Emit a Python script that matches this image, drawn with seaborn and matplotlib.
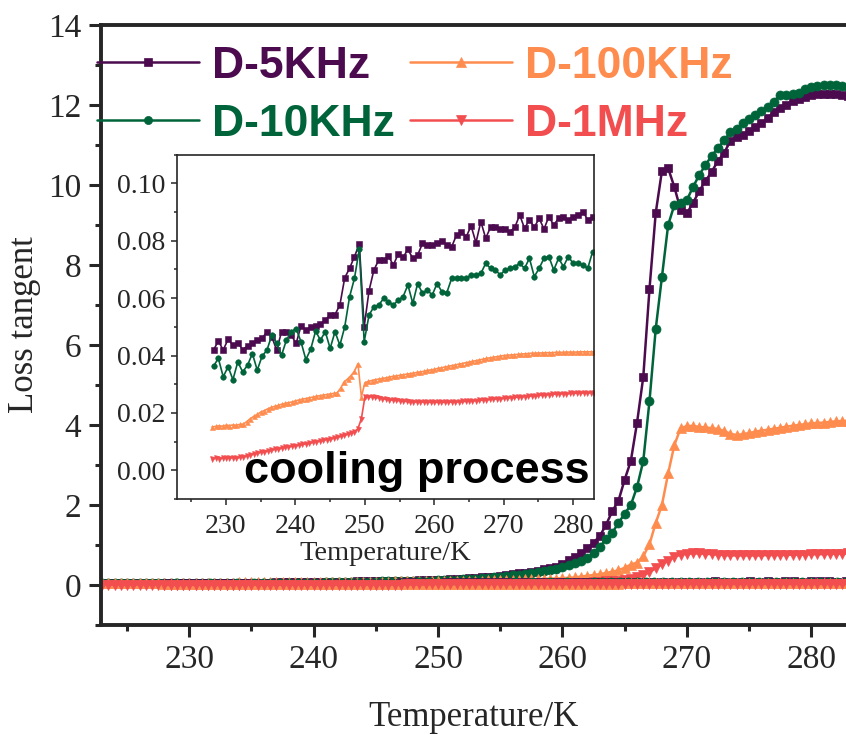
import numpy as np
import matplotlib
matplotlib.use("Agg")
import matplotlib.pyplot as plt
from matplotlib.ticker import MultipleLocator, FormatStrFormatter
import seaborn as sns

# ---------------- data ----------------
labels = ["D-5KHz", "D-10KHz", "D-100KHz", "D-1MHz"]
colors = ["#4B0B4E", "#00643A", "#FF8C4F", "#F24E50"]
markers = ["s", "o", "^", "v"]

# heating run (main panel), temperature grid 223 ... 283 K, 0.5 K step
T_heat = np.round(np.arange(223.0, 283.01, 0.5), 1)

heat_5k = [0.05, 0.05, 0.05, 0.05, 0.05, 0.05, 0.05, 0.05, 0.05, 0.05, 0.05, 0.05, 0.05, 0.05,
           0.05, 0.05, 0.05, 0.05, 0.06, 0.06, 0.06, 0.06, 0.06, 0.06, 0.06, 0.06, 0.06, 0.06, 0.07, 0.07, 0.07, 0.07, 0.07, 0.07,
           0.07, 0.07, 0.08, 0.08, 0.08, 0.08, 0.08, 0.09, 0.09, 0.09, 0.09, 0.10, 0.10, 0.10, 0.11, 0.11, 0.11, 0.12, 0.12, 0.12,
           0.13, 0.13, 0.14, 0.15, 0.16, 0.17, 0.18, 0.19, 0.20, 0.21, 0.23, 0.25, 0.27, 0.29, 0.31, 0.33, 0.36, 0.39, 0.42, 0.46,
           0.52, 0.62, 0.69, 0.79, 0.92, 1.06, 1.22, 1.50, 1.84, 2.10, 2.63, 3.10, 4.06, 5.20, 7.40, 9.30, 10.35, 10.42, 9.95, 9.38,
           9.29, 9.55, 9.85, 10.10, 10.33, 10.60, 10.80, 11.10, 11.20, 11.26, 11.35, 11.44, 11.55, 11.68, 11.82, 11.92, 12.01, 12.10, 12.16, 12.21,
           12.25, 12.27, 12.28, 12.28, 12.27, 12.25, 12.22]
heat_10k = [0.04, 0.04, 0.04, 0.04, 0.04, 0.04, 0.04, 0.04, 0.04, 0.04, 0.04, 0.04, 0.04, 0.04,
            0.04, 0.04, 0.04, 0.04, 0.05, 0.05, 0.05, 0.05, 0.05, 0.05, 0.05, 0.05, 0.05, 0.05, 0.06, 0.06, 0.06, 0.06, 0.06, 0.06,
            0.06, 0.06, 0.07, 0.07, 0.07, 0.07, 0.07, 0.08, 0.08, 0.08, 0.08, 0.09, 0.09, 0.09, 0.10, 0.10, 0.10, 0.11, 0.11, 0.11,
            0.12, 0.12, 0.13, 0.13, 0.14, 0.15, 0.16, 0.17, 0.18, 0.19, 0.21, 0.22, 0.24, 0.26, 0.28, 0.30, 0.32, 0.35, 0.38, 0.41,
            0.46, 0.50, 0.55, 0.61, 0.68, 0.80, 0.95, 1.15, 1.30, 1.55, 1.78, 2.00, 2.45, 3.10, 4.60, 6.40, 7.70, 9.00, 9.50, 9.55,
            9.62, 9.95, 10.25, 10.50, 10.73, 10.92, 11.12, 11.32, 11.41, 11.54, 11.64, 11.74, 11.85, 11.95, 12.08, 12.26, 12.25, 12.27, 12.31, 12.39,
            12.44, 12.48, 12.50, 12.50, 12.49, 12.48, 12.46]
heat_100k = [0.06, 0.06, 0.06, 0.06, 0.06, 0.06, 0.06, 0.06, 0.06, 0.06, 0.06, 0.06, 0.06, 0.06,
             0.06, 0.06, 0.06, 0.06, 0.06, 0.06, 0.06, 0.06, 0.07, 0.07, 0.07, 0.07, 0.07, 0.07, 0.07, 0.07, 0.07, 0.07, 0.07, 0.07,
             0.07, 0.07, 0.07, 0.07, 0.07, 0.08, 0.08, 0.08, 0.08, 0.08, 0.08, 0.08, 0.08, 0.09, 0.09, 0.09, 0.09, 0.09, 0.09, 0.09,
             0.09, 0.09, 0.10, 0.10, 0.10, 0.11, 0.11, 0.11, 0.12, 0.12, 0.12, 0.13, 0.13, 0.13, 0.14, 0.14, 0.15, 0.15, 0.16, 0.16,
             0.17, 0.18, 0.19, 0.21, 0.23, 0.25, 0.27, 0.30, 0.33, 0.37, 0.43, 0.51, 0.56, 0.72, 1.02, 1.55, 2.00, 2.79, 3.50, 3.92,
             3.97, 3.98, 3.95, 3.94, 3.92, 3.90, 3.85, 3.78, 3.75, 3.77, 3.80, 3.83, 3.86, 3.88, 3.91, 3.93, 3.96, 3.98, 4.00, 4.02,
             4.04, 4.05, 4.06, 4.08, 4.09, 4.10, 4.11]
heat_1m = [0.01, 0.01, 0.01, 0.01, 0.01, 0.01, 0.01, 0.01, 0.01, 0.01, 0.01, 0.01, 0.01, 0.01,
           0.01, 0.01, 0.01, 0.01, 0.01, 0.01, 0.01, 0.01, 0.01, 0.01, 0.02, 0.02, 0.02, 0.02, 0.02, 0.02, 0.02, 0.02, 0.02, 0.02,
           0.02, 0.02, 0.02, 0.02, 0.02, 0.02, 0.02, 0.02, 0.02, 0.02, 0.03, 0.03, 0.03, 0.03, 0.03, 0.03, 0.03, 0.03, 0.03, 0.03,
           0.03, 0.03, 0.03, 0.03, 0.03, 0.03, 0.03, 0.03, 0.03, 0.03, 0.04, 0.04, 0.04, 0.04, 0.04, 0.04, 0.04, 0.04, 0.04, 0.04,
           0.04, 0.05, 0.05, 0.06, 0.06, 0.07, 0.08, 0.09, 0.10, 0.11, 0.13, 0.15, 0.19, 0.24, 0.32, 0.42, 0.52, 0.61, 0.70, 0.76,
           0.78, 0.79, 0.79, 0.78, 0.77, 0.76, 0.75, 0.74, 0.74, 0.74, 0.74, 0.74, 0.74, 0.75, 0.75, 0.75, 0.75, 0.76, 0.76, 0.76,
           0.77, 0.77, 0.77, 0.78, 0.78, 0.78, 0.79]

# cooling run (inset), low-frequency curves sampled every 0.7 K from 228.2 K
T_cool_lf = np.round(np.linspace(228.2, 282.8, 79), 2)
cool_5k = [0.0419, 0.0451, 0.0419, 0.0457, 0.0436, 0.0444, 0.0421, 0.0433, 0.0444, 0.0454,
           0.0460, 0.0483, 0.0465, 0.0419, 0.0483, 0.0483, 0.0471, 0.0442, 0.0503, 0.0489,
           0.0500, 0.0503, 0.0510, 0.0524, 0.0541, 0.0543, 0.0576, 0.0671, 0.0704, 0.0745,
           0.0788, 0.0500, 0.0626, 0.0698, 0.0733, 0.0733, 0.0747, 0.0715, 0.0754, 0.0742,
           0.0770, 0.0739, 0.0750, 0.0791, 0.0785, 0.0785, 0.0793, 0.0800, 0.0785, 0.0779,
           0.0820, 0.0832, 0.0814, 0.0852, 0.0793, 0.0867, 0.0809, 0.0847, 0.0849, 0.0840,
           0.0840, 0.0832, 0.0847, 0.0890, 0.0843, 0.0873, 0.0847, 0.0878, 0.0841, 0.0884,
           0.0855, 0.0878, 0.0884, 0.0873, 0.0884, 0.0890, 0.0902, 0.0873, 0.0884]
cool_10k = [0.0363, 0.0390, 0.0326, 0.0361, 0.0316, 0.0378, 0.0343, 0.0366, 0.0407, 0.0349,
            0.0398, 0.0419, 0.0471, 0.0442, 0.0401, 0.0454, 0.0483, 0.0494, 0.0448, 0.0386,
            0.0422, 0.0485, 0.0454, 0.0483, 0.0425, 0.0483, 0.0436, 0.0500, 0.0605, 0.0669,
            0.0771, 0.0448, 0.0541, 0.0570, 0.0576, 0.0599, 0.0588, 0.0576, 0.0593, 0.0605,
            0.0646, 0.0582, 0.0651, 0.0617, 0.0628, 0.0611, 0.0651, 0.0622, 0.0619, 0.0669,
            0.0669, 0.0669, 0.0669, 0.0681, 0.0681, 0.0686, 0.0721, 0.0704, 0.0698, 0.0681,
            0.0698, 0.0704, 0.0710, 0.0721, 0.0704, 0.0739, 0.0675, 0.0704, 0.0739, 0.0745,
            0.0698, 0.0739, 0.0710, 0.0745, 0.0721, 0.0721, 0.0715, 0.0704, 0.0762]

# cooling run, high-frequency curves sampled every 0.5 K from 228 K
T_cool_hf = np.round(np.arange(228.0, 283.01, 0.5), 1)
cool_100k = [0.0151, 0.0153, 0.0155, 0.0154, 0.0157, 0.0156, 0.0158, 0.0157, 0.0160, 0.0161,
             0.0170, 0.0180, 0.0188, 0.0195, 0.0203, 0.0208, 0.0214, 0.0219, 0.0223, 0.0226,
             0.0230, 0.0233, 0.0236, 0.0238, 0.0242, 0.0245, 0.0248, 0.0250, 0.0253, 0.0255,
             0.0258, 0.0260, 0.0262, 0.0264, 0.0266, 0.0268, 0.0270, 0.0286, 0.0308, 0.0318,
             0.0330, 0.0345, 0.0372, 0.0256, 0.0305, 0.0310, 0.0313, 0.0316, 0.0318, 0.0320,
             0.0322, 0.0325, 0.0327, 0.0329, 0.0331, 0.0333, 0.0335, 0.0337, 0.0339, 0.0341,
             0.0343, 0.0345, 0.0348, 0.0350, 0.0352, 0.0355, 0.0357, 0.0360, 0.0362, 0.0365,
             0.0367, 0.0370, 0.0372, 0.0375, 0.0377, 0.0380, 0.0382, 0.0385, 0.0387, 0.0390,
             0.0392, 0.0394, 0.0396, 0.0398, 0.0400, 0.0401, 0.0402, 0.0403, 0.0404, 0.0405,
             0.0406, 0.0407, 0.0408, 0.0408, 0.0409, 0.0409, 0.0410, 0.0410, 0.0410, 0.0411,
             0.0411, 0.0411, 0.0412, 0.0412, 0.0412, 0.0412, 0.0413, 0.0413, 0.0413, 0.0413, 0.0413]
cool_1m = [0.0041, 0.0042, 0.0041, 0.0043, 0.0042, 0.0043, 0.0044, 0.0043, 0.0045, 0.0047,
           0.0050, 0.0054, 0.0058, 0.0060, 0.0063, 0.0065, 0.0068, 0.0070, 0.0073, 0.0075,
           0.0078, 0.0080, 0.0082, 0.0084, 0.0086, 0.0088, 0.0090, 0.0092, 0.0095, 0.0097,
           0.0100, 0.0102, 0.0105, 0.0107, 0.0110, 0.0112, 0.0115, 0.0118, 0.0122, 0.0126,
           0.0130, 0.0135, 0.0145, 0.0180, 0.0255, 0.0257, 0.0256, 0.0254, 0.0252, 0.0250,
           0.0248, 0.0246, 0.0245, 0.0244, 0.0242, 0.0241, 0.0240, 0.0239, 0.0239, 0.0238,
           0.0238, 0.0238, 0.0237, 0.0237, 0.0237, 0.0237, 0.0237, 0.0237, 0.0238, 0.0238,
           0.0238, 0.0239, 0.0240, 0.0240, 0.0241, 0.0242, 0.0243, 0.0244, 0.0245, 0.0246,
           0.0247, 0.0248, 0.0249, 0.0250, 0.0251, 0.0252, 0.0253, 0.0254, 0.0255, 0.0256,
           0.0257, 0.0258, 0.0259, 0.0260, 0.0261, 0.0262, 0.0263, 0.0264, 0.0265, 0.0266,
           0.0266, 0.0267, 0.0267, 0.0268, 0.0268, 0.0269, 0.0269, 0.0270, 0.0270, 0.0270, 0.0271]

main_xticks = [230, 240, 250, 260, 270, 280]
main_yticks = [0, 2, 4, 6, 8, 10, 12, 14]
inset_yticks = [0.00, 0.02, 0.04, 0.06, 0.08, 0.10]

heat = [heat_5k, heat_10k, heat_100k, heat_1m]
cool_T = [T_cool_lf, T_cool_lf, T_cool_hf, T_cool_hf]
cool = [cool_5k, cool_10k, cool_100k, cool_1m]

# ---------------- style ----------------
sns.set_style("ticks")
plt.rcParams["font.family"] = ["Liberation Serif", "DejaVu Serif"]
plt.rcParams["mathtext.default"] = "regular"

W, H = 846, 735
fig = plt.figure(figsize=(W / 100, H / 100), dpi=100)

ax = fig.add_axes([101 / W, (H - 625) / H, (W - 101) / W, 600 / H])
main_ms = [6.0, 6.5, 7.5, 7.5]

for i in range(4):
    sns.lineplot(x=T_heat, y=heat[i], ax=ax, color=colors[i], marker=markers[i],
                 markersize=main_ms[i], markeredgecolor=colors[i], markeredgewidth=0.5,
                 linewidth=1.8, label=labels[i], errorbar=None, sort=False)
for i in range(4):
    sns.lineplot(x=cool_T[i], y=cool[i], ax=ax, color=colors[i], marker=markers[i],
                 markersize=main_ms[i], markeredgecolor=colors[i], markeredgewidth=0.5,
                 linewidth=1.8, errorbar=None, sort=False)

ax.set_xlim(222.9, 282.8)
ax.set_ylim(-1, 14)
ax.set_xticks(main_xticks)
ax.set_yticks(main_yticks)
ax.xaxis.set_minor_locator(MultipleLocator(5))
ax.yaxis.set_minor_locator(MultipleLocator(1))
ax.spines["right"].set_visible(False)
for s in ["left", "bottom", "top"]:
    ax.spines[s].set_linewidth(2.8)
ax.tick_params(which="major", direction="out", length=8.6, width=2.2, labelsize=24, pad=5.5,
               top=False, right=False)
ax.tick_params(which="minor", direction="out", length=4.3, width=2.2, top=False, right=False)
ax.set_xlabel("Temperature/K", fontsize=25, labelpad=19)
ax.set_ylabel("Loss tangent", fontsize=25, labelpad=5)

leg = ax.legend(loc="upper left", bbox_to_anchor=(97 / W, 1 - 46 / H),
                bbox_transform=fig.transFigure, ncol=2, frameon=False,
                prop={"family": "Liberation Sans", "weight": "bold", "size": 32},
                labelcolor="linecolor", handlelength=2.3, handletextpad=0.28,
                columnspacing=0.35, labelspacing=0.38, borderpad=0, borderaxespad=0,
                markerscale=0.9)

# ---------------- inset ----------------
ins = fig.add_axes([176.7 / W, (H - 499) / H, (594 - 176.7) / W, (499 - 154.7) / H])
ins.set_facecolor("white")
ins_ms = [3.8, 4.0, 3.6, 3.6]
for i in range(4):
    sns.lineplot(x=cool_T[i], y=cool[i], ax=ins, color=colors[i], marker=markers[i],
                 markersize=ins_ms[i], markeredgecolor=colors[i], markeredgewidth=0.4,
                 linewidth=1.2, errorbar=None, sort=False)
ins.set_xlim(222.9, 283.0)
ins.set_ylim(-0.01, 0.11)
ins.set_xticks(main_xticks)
ins.set_yticks(inset_yticks)
ins.yaxis.set_major_formatter(FormatStrFormatter("%.2f"))
ins.xaxis.set_minor_locator(MultipleLocator(5))
ins.yaxis.set_minor_locator(MultipleLocator(0.01))
for s in ins.spines.values():
    s.set_linewidth(1.2)
    s.set_visible(True)
ins.tick_params(which="major", direction="out", length=4.5, width=1.1, labelsize=20, pad=3.5)
ins.tick_params(axis="x", which="major", pad=6.5)
ins.tick_params(which="minor", direction="out", length=2.4, width=1.1)
ins.set_xlabel("Temperature/K", fontsize=20.5, labelpad=1)
ins.set_ylabel("")

fig.text(590 / W, (H - 483) / H, "cooling process", ha="right", va="baseline",
         fontsize=32.5, fontweight="bold", family="Liberation Sans", color="black")

fig.savefig("out.png", dpi=100)
